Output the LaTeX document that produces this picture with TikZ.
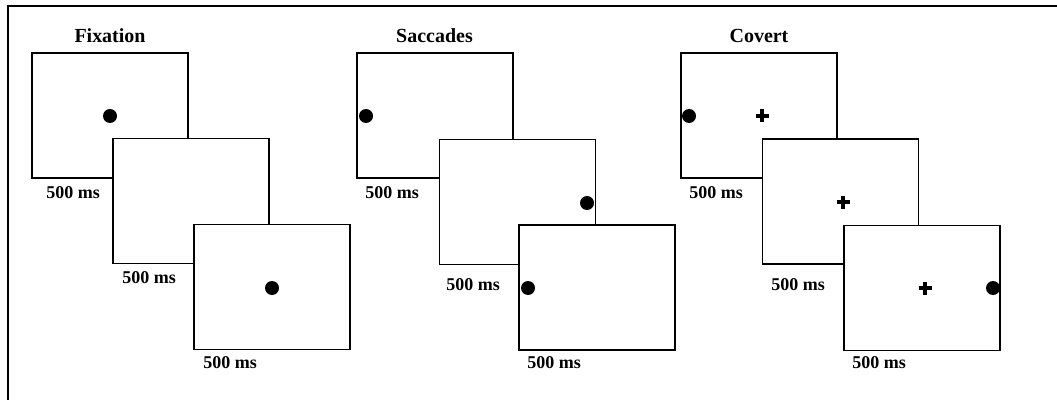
\documentclass[tikz,border=0pt]{standalone}
\usepackage{fontspec}
\setmainfont{Liberation Serif}
\usepackage{tikz}
\usetikzlibrary{positioning}

\tikzset{
	screen/.style={draw=black,line width=0.9pt,fill=white,rectangle,inner sep=0pt,minimum width=3.9cm,minimum height=3.125cm},
	dot/.style={circle,fill=black,inner sep=0pt,minimum size=0.35cm},
	plusmark/.style={line width=2.6pt},
	dur/.style={anchor=west,inner sep=0pt,font=\fontsize{12.8}{14}\selectfont\bfseries},
	cond/.style={inner sep=0pt,font=\fontsize{14.2}{16}\selectfont\bfseries},
	border/.style={line width=1.5pt}
}

\begin{document}
\begin{tikzpicture}[x=0.025cm,y=-0.025cm]
				\useasboundingbox (0,0) rectangle (1057,400);
				%Frame
				\draw[border] (8,400) -- (8,6) -- (1057,6);

				%Titles
				\node[cond] (tfix) at (110,36) {Fixation};
				\node[cond] (tsac) at (434.5,36) {Saccades};
				\node[cond] (tcov) at (759,36) {Covert};

				%Fixation
				\node[screen] (f1) at (110,115.5) {};
				\node[screen] (f2) at (191,201) {};
				\node[screen] (f3) at (272,287) {};
				\node[dot] (df1) at (110,116) {};
				\node[dot] (df3) at (272,288) {};
				\node[dur] (lf1) at (46,193) {500 ms};
				\node[dur] (lf2) at (122,278) {500 ms};
				\node[dur] (lf3) at (203,363) {500 ms};

				%Saccades
				\node[screen] (s1) at (435,115.5) {};
				\node[screen] (s2) at (517.5,202) {};
				\node[screen] (s3) at (597,287.5) {};
				\node[dot] (ds1) at (366,116) {};
				\node[dot] (ds2) at (587,203) {};
				\node[dot] (ds3) at (528,288) {};
				\node[dur] (ls1) at (365,193) {500 ms};
				\node[dur] (ls2) at (446,285) {500 ms};
				\node[dur] (ls3) at (527,363) {500 ms};

				%Covert
				\node[screen] (c1) at (759,115.5) {};
				\node[dot] (dc1) at (689,116) {};
				\draw[plusmark] (762,116) +(-6.5,0) -- +(6.5,0) +(0,-6.5) -- +(0,6.5);
				\node[screen] (c2) at (840.5,201.5) {};
				\draw[plusmark] (843,202) +(-6.5,0) -- +(6.5,0) +(0,-6.5) -- +(0,6.5);
				\node[screen] (c3) at (922,288) {};
				\draw[plusmark] (925,288) +(-6.5,0) -- +(6.5,0) +(0,-6.5) -- +(0,6.5);
				\node[dot] (dc3) at (993,288) {};
				\node[dur] (lc1) at (689,193) {500 ms};
				\node[dur] (lc2) at (771,285) {500 ms};
				\node[dur] (lc3) at (852,363) {500 ms};

		\end{tikzpicture}
\end{document}
